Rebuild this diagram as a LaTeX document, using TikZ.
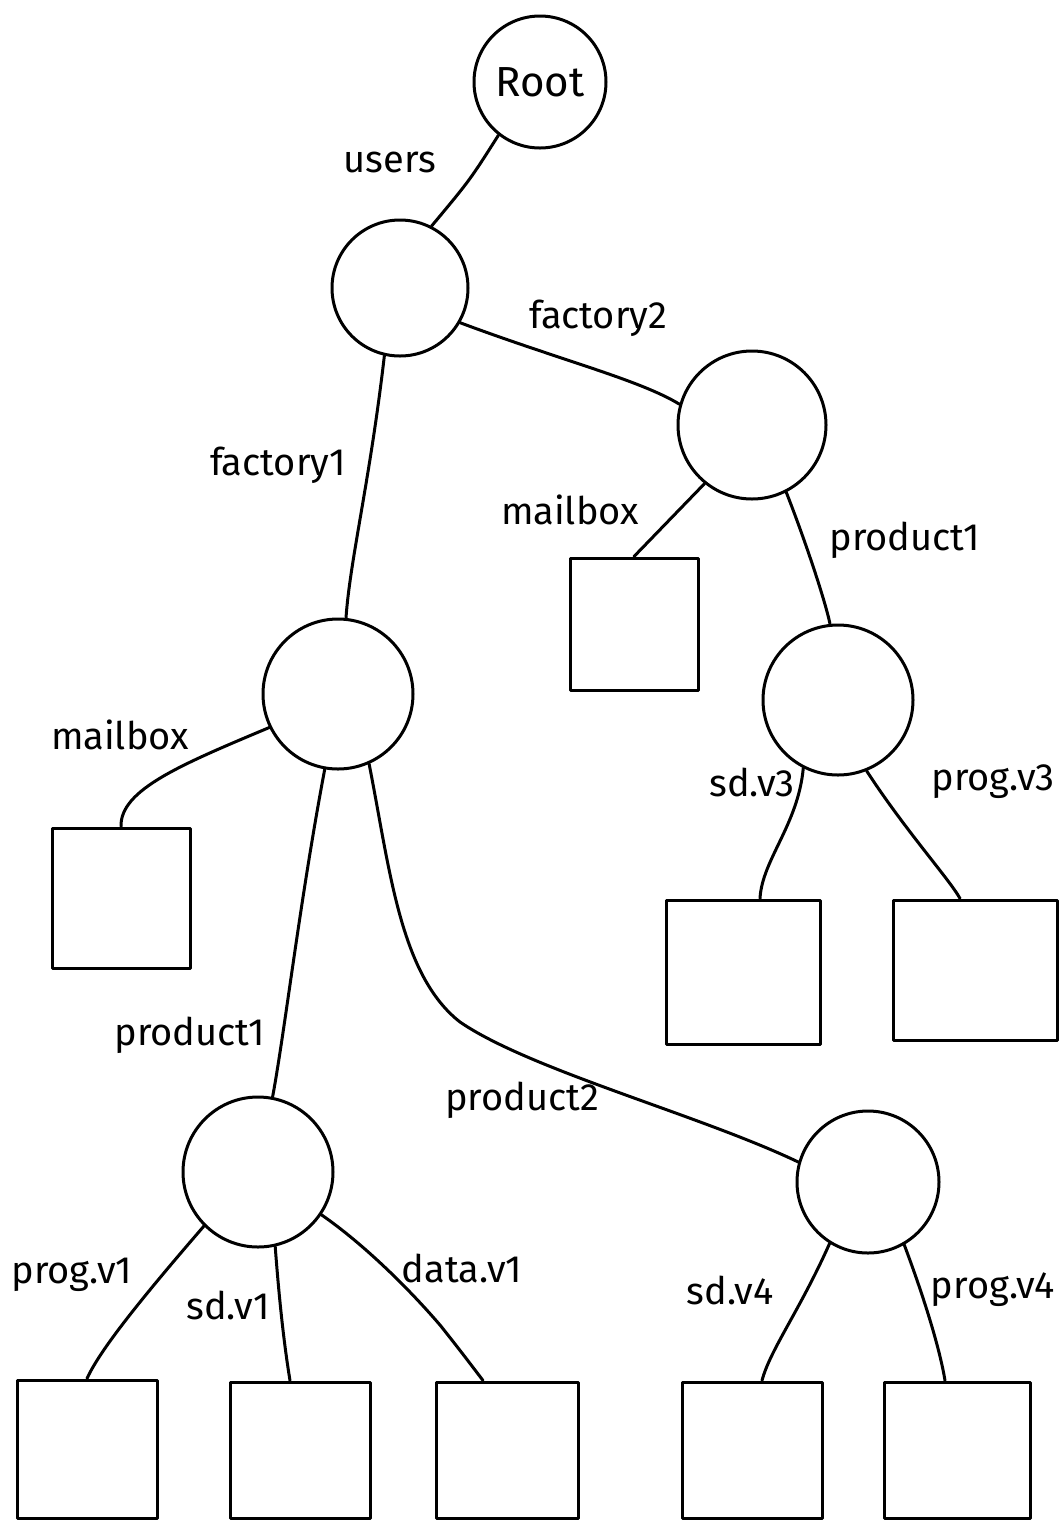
\documentclass[tikz,border=0pt]{standalone}
\usepackage{fontspec}
\setmainfont{Fira Sans}
\usetikzlibrary{calc}
\begin{document}
\begin{tikzpicture}[x=0.5pt,y=-0.5pt,
  every path/.style={line width=1.5pt,line cap=round,line join=round},
  dirnode/.style={draw,circle,inner sep=0pt},
  filebox/.style={draw,rectangle,inner sep=0pt},
  lbl/.style={font=\fontsize{19}{22}\selectfont,inner sep=0pt}]
\useasboundingbox (0,0) rectangle (1062,1522);

% directory nodes
\node[dirnode,minimum size=66pt] (root) at (540,82) {\fontsize{21}{24}\selectfont Root};
\node[dirnode,minimum size=68pt] (users) at (400,288) {};
\node[dirnode,minimum size=74pt] (f2) at (752,425) {};
\node[dirnode,minimum size=75pt] (f1) at (338,694) {};
\node[dirnode,minimum size=75pt] (p1r) at (838,700) {};
\node[dirnode,minimum size=75pt] (p1l) at (258,1172) {};
\node[dirnode,minimum size=71pt] (p2) at (868,1182) {};

% file boxes
\node[filebox,minimum width=64pt,minimum height=66pt] (mbr) at (634,624) {};
\node[filebox,minimum width=69pt,minimum height=70pt] (mbl) at (121,898) {};
\node[filebox,minimum width=77pt,minimum height=72pt] (sd3) at (743,972) {};
\node[filebox,minimum width=82pt,minimum height=70pt] (pg3) at (975,970) {};
\node[filebox,minimum width=70pt,minimum height=69pt] (pg1) at (87,1449) {};
\node[filebox,minimum width=70pt,minimum height=68pt] (sd1) at (300,1450) {};
\node[filebox,minimum width=71pt,minimum height=68pt] (dt1) at (507,1450) {};
\node[filebox,minimum width=70pt,minimum height=68pt] (sd4) at (752,1450) {};
\node[filebox,minimum width=73pt,minimum height=68pt] (pg4) at (957,1450) {};

% connectors
\draw (root.232) .. controls (470,180) .. (users.63);
\draw (users.-30) .. controls (560,360) and (640,380) .. (f2.164);
\draw (users.-103) .. controls (370,480) and (350,560) .. (f1.84);
\draw (f1.206) .. controls (180,765) and (120,790) .. (mbl.north);
\draw (f2.231) -- (mbr.north);
\draw (f2.-63) .. controls (805,540) and (825,600) .. (p1r.96);
\draw (p1r.243) .. controls (798,825) and (762,860) .. ($(sd3.north)+(17,0)$);
\draw (p1r.-68) .. controls (905,830) and (950,880) .. ($(pg3.north)+(-15,0)$);
\draw (f1.-100) .. controls (300,900) and (285,1030) .. (p1l.79);
\draw (f1.-66) .. controls (390,870) and (400,975) .. (460,1022)
      .. controls (530,1070) and (700,1115) .. (p2.164);
\draw (p1l.225) .. controls (140,1300) and (100,1350) .. (pg1.north);
\draw (p1l.-77) .. controls (280,1310) and (285,1350) .. ($(sd1.north)+(-10,0)$);
\draw (p1l.-34) .. controls (365,1245) and (410,1290) .. (440,1325)
      .. controls (460,1350) and (475,1370) .. ($(dt1.north)+(-24,0)$);
\draw (p2.238) .. controls (800,1310) and (770,1350) .. ($(sd4.north)+(10,0)$);
\draw (p2.-60) .. controls (925,1300) and (940,1350) .. ($(pg4.north)+(-12,0)$);

% edge labels
\node[lbl] (lusers) at (390,162) {users};
\node[lbl] (lf2) at (598,318) {factory2};
\node[lbl] (lf1) at (278,465) {factory1};
\node[lbl] (lmbr) at (570,510) {mailbox};
\node[lbl] (lp1r) at (905,540) {product1};
\node[lbl] (lmbl) at (120,735) {mailbox};
\node[lbl] (lsd3) at (752,782) {sd.v3};
\node[lbl] (lpg3) at (993,782) {prog.v3};
\node[lbl] (lp1l) at (190,1035) {product1};
\node[lbl] (lp2) at (522,1100) {product2};
\node[lbl] (lpg1) at (72,1275) {prog.v1};
\node[lbl] (lsd1) at (228,1305) {sd.v1};
\node[lbl] (ldt1) at (462,1268) {data.v1};
\node[lbl] (lsd4) at (730,1290) {sd.v4};
\node[lbl] (lpg4) at (993,1290) {prog.v4};
\end{tikzpicture}
\end{document}
